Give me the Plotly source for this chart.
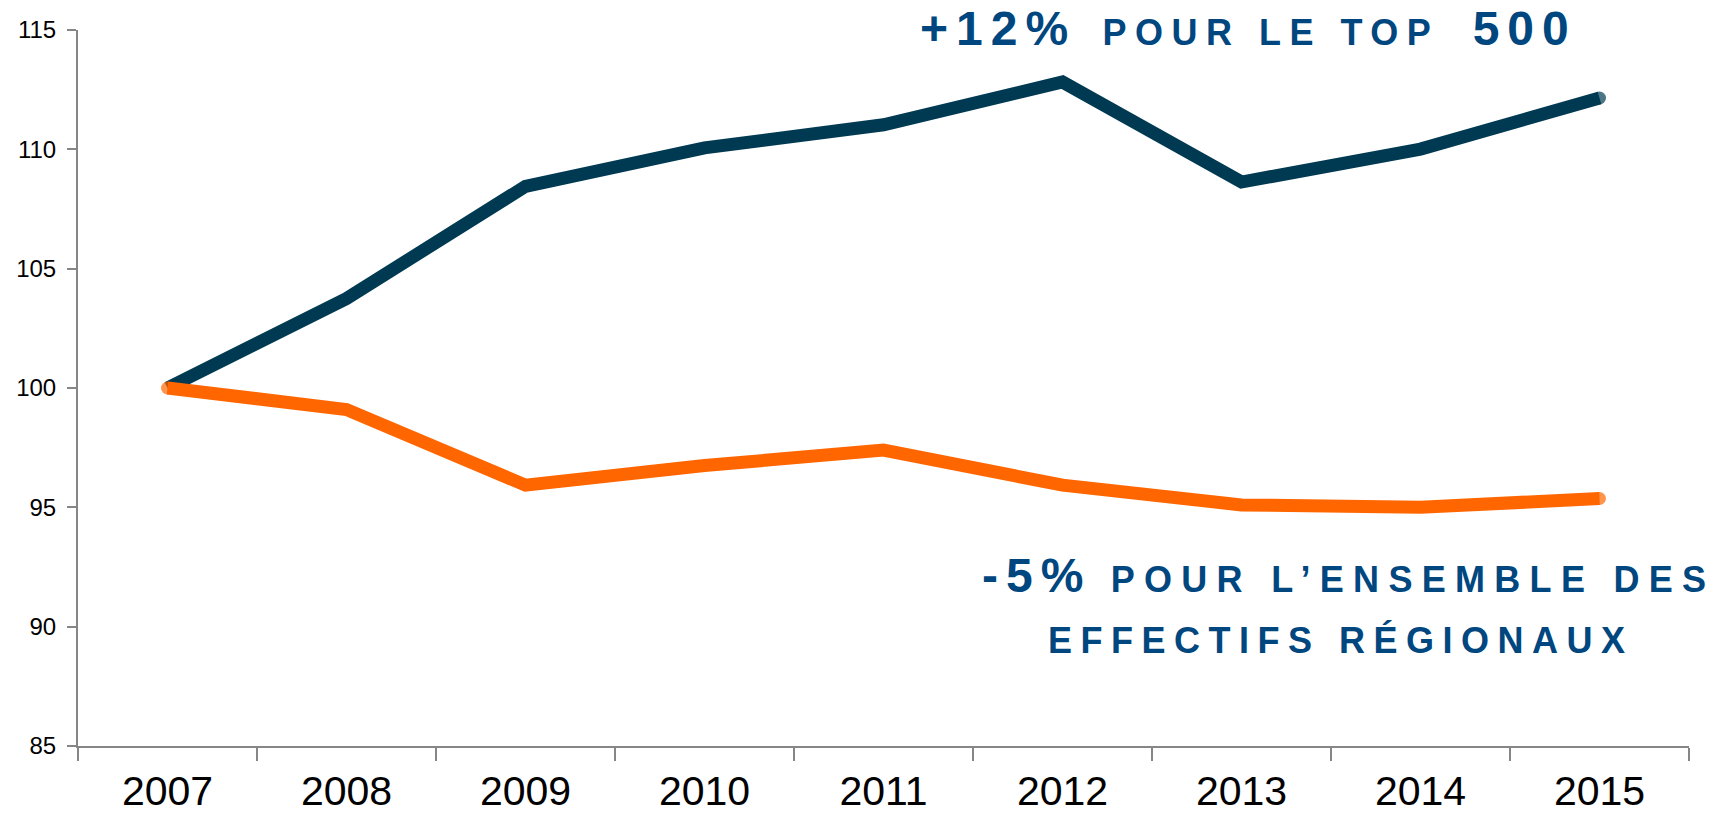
import plotly.graph_objects as go

years = ["2007", "2008", "2009", "2010", "2011", "2012", "2013", "2014", "2015"]
top500 = [100.0, 103.75, 108.45, 110.06, 111.03, 112.82, 108.63, 110.01, 112.15]
regional = [100.0, 99.10, 95.93, 96.75, 97.40, 95.93, 95.10, 95.00, 95.37]
y_ticks = [85, 90, 95, 100, 105, 110, 115]

DARK = "#003A52"
ORANGE = "#FF6600"
TEXT = "#00467F"
AXIS = "#868686"
FONT = "Liberation Sans, Arial, sans-serif"

# the page body has an 8px margin; size the figure so it fits the window
OFF = 8
W, H = 1721 - OFF, 814 - OFF
# plot area in page coordinates: x 78..1689, y 30..746
PX0, PX1, PY0, PY1 = 78, 1689, 30, 746
L, R, T, B = PX0 - OFF, (W + OFF) - PX1, PY0 - OFF, (H + OFF) - PY1
PW, PH = PX1 - PX0, PY1 - PY0


def px(xp):
    return (xp - PX0) / PW


def py(yp):
    return (PY1 - yp) / PH


def cap_sizes(n):
    return [13] + [0] * (n - 2) + [13]


fig = go.Figure()
fig.add_trace(go.Scatter(
    x=years, y=top500, mode="lines+markers",
    line=dict(color=DARK, width=13),
    marker=dict(color=DARK, size=[0] * (len(years) - 1) + [13], line=dict(width=0)),
    hoverinfo="skip", showlegend=False,
))
fig.add_trace(go.Scatter(
    x=years, y=regional, mode="lines+markers",
    line=dict(color=ORANGE, width=13),
    marker=dict(color=ORANGE, size=cap_sizes(len(years)), line=dict(width=0)),
    hoverinfo="skip", showlegend=False,
))

big = "font-size:48px;letter-spacing:8px"
small = "font-size:36px;letter-spacing:8.5px"
small1 = "font-size:36px;letter-spacing:9.3px"
small2 = "font-size:36px;letter-spacing:8.5px"
gap1 = "font-size:48px;letter-spacing:13px"
gap2 = "font-size:48px;letter-spacing:20px"

fig.add_annotation(
    xref="paper", yref="paper", x=px(918), y=py(57), xanchor="left", yanchor="bottom",
    text=(f"<b><span style='{big}'>+12%</span><span style='{gap1}'> </span>"
          f"<span style='{small}'>POUR LE TOP</span><span style='{gap2}'> </span>"
          f"<span style='{big}'>500</span></b>"),
    showarrow=False, font=dict(family=FONT, size=36, color=TEXT),
)
fig.add_annotation(
    xref="paper", yref="paper", x=px(1348), y=py(575), xanchor="center", yanchor="middle",
    text=f"<b><span style='{big}'>-5%</span><span style='{small1}'> POUR L’ENSEMBLE DES</span></b>",
    showarrow=False, font=dict(family=FONT, size=36, color=TEXT),
)
fig.add_annotation(
    xref="paper", yref="paper", x=px(1341), y=py(640), xanchor="center", yanchor="middle",
    text=f"<b><span style='{small2}'>EFFECTIFS RÉGIONAUX</span></b>",
    showarrow=False, font=dict(family=FONT, size=36, color=TEXT),
)

fig.update_layout(
    width=W, height=H,
    margin=dict(l=L, r=R, t=T, b=B, pad=0, autoexpand=False),
    paper_bgcolor="white", plot_bgcolor="white",
    font=dict(family=FONT, color="black"),
    xaxis=dict(
        type="category", range=[-0.5, len(years) - 0.5], automargin=False,
        showline=True, linecolor=AXIS, linewidth=2,
        ticks="outside", tickson="boundaries", ticklen=13, tickwidth=2, tickcolor=AXIS,
        showgrid=False, zeroline=False,
        tickfont=dict(family=FONT, size=41, color="black"),
        ticklabelstandoff=8,
    ),
    yaxis=dict(
        range=[85, 115], tickvals=y_ticks, ticktext=[str(v) for v in y_ticks],
        automargin=False,
        showline=True, linecolor=AXIS, linewidth=2,
        ticks="outside", ticklen=9, tickwidth=2, tickcolor=AXIS,
        showgrid=False, zeroline=False,
        tickfont=dict(family=FONT, size=24, color="black"),
        ticklabelstandoff=6,
    ),
)

fig.write_html("out.html")
